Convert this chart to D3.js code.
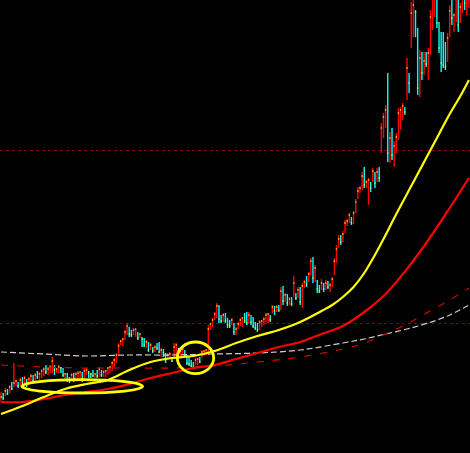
<!DOCTYPE html>
<html><head><meta charset="utf-8">
<script src="https://cdn.jsdelivr.net/npm/d3@7"></script>
<style>html,body{margin:0;padding:0;background:#000;overflow:hidden}</style>
</head><body>
<svg id="c" width="470" height="453"></svg>
<script>
const highs = [61,60,65,64,68,71,90,73,71,75, 76,77,74,76,79,78,80,82,81,84,
  86,88,86,88,96,88,85,88,86,85, 80,80,76,80,80,81,82,81,81,85,
  85,82,80,83,80,83,86,83,83,83, 86,87,92,95,100,110,113,115,123,130,
  126,123,125,124,121,120,116,115,113,111, 110,106,108,110,111,105,104,100,100,101,
  96,110,110,105,104,106,103,98,96,93, 91,95,95,96,103,103,103,128,130,135,
  141,150,148,138,140,140,135,133,135,130, 126,131,135,136,140,141,141,138,136,131,
  130,133,133,136,140,140,138,148,147,148, 148,166,167,160,159,156,156,177,160,166,
  166,170,173,177,181,195,196,188,173,168, 174,170,173,172,170,176,195,208,218,218,
  222,233,234,240,236,242,254,266,267,281, 286,273,275,271,285,281,285,286,330,340,
  348,380,321,325,312,320,345,346,350,346, 395,380,451,455,443,425,403,401,401,401,
  405,443,460,470,465,431,421,421,411,420, 448,460,440,465,460,450,470,470,470,478];
const lows = [51,53,57,58,60,63,66,67,65,67, 68,69,66,68,71,70,72,74,73,75,
  77,79,78,80,80,78,80,80,80,76, 73,71,70,72,71,72,74,75,71,75,
  78,75,75,76,75,75,76,76,76,76, 78,80,82,86,90,98,108,107,113,118,
  116,116,118,116,113,115,106,106,105,101, 103,100,101,103,100,96,96,90,95,95,
  91,96,98,95,97,98,95,88,87,86, 85,88,88,90,95,97,98,98,123,126,
  133,135,130,130,131,130,125,125,128,118, 118,124,127,126,130,128,130,128,125,123,
  121,123,126,128,131,130,131,140,138,141, 141,143,148,151,147,148,147,156,153,155,
  148,145,165,166,171,178,170,171,160,160, 163,161,163,164,161,166,178,190,205,208,
  211,220,227,230,228,229,240,254,260,263, 265,265,248,261,271,265,271,271,300,315,
  325,291,290,293,286,300,313,323,333,338, 353,360,405,416,416,358,356,373,378,386,
  373,398,423,436,425,400,381,385,383,391, 416,428,421,431,421,430,440,443,438,445];
const closes = [56,55,62,59,66,64,70,72,67,73, 70,75,68,74,77,72,78,76,79,82,
  84,81,84,86,92,83,84,86,85,78, 79,73,72,78,74,79,80,81,74,82,
  83,81,79,77,79,77,84,78,81,82, 85,86,90,93,98,107,112,114,121,127,
  119,118,123,124,115,119,114,108,111,103, 108,102,106,105,101,103,100,93,98,99,
  92,106,108,97,102,104,97,90,89,87, 86,93,94,91,101,102,103,124,129,133,
  139,147,134,132,138,132,128,127,133,121, 124,129,133,135,132,130,138,131,127,125,
  123,131,132,134,138,139,133,146,142,146, 143,162,152,158,150,154,149,170,155,163,
  151,167,171,168,179,192,175,185,164,162, 170,164,170,166,168,174,192,204,214,211,
  219,230,232,238,230,240,251,262,265,277, 268,271,273,265,282,270,281,275,325,336,
  343,300,315,298,307,316,340,343,347,341, 385,370,440,448,441,365,395,380,392,389,
  400,436,455,462,430,405,390,388,386,415, 442,435,438,458,428,446,462,450,465,470];

// moving averages read at sample bars
const yellowIdx = [0,10,20,30,40,50,60,70,80,90,100,110,120,130,140,150,155,160,165,170,175,180,185,190,195,200,205,210,215,219];
const yellowMA  = [39,47,56,64,69,73,83,91,95,97,102,110,117,123,131,142,148,156,166,180,198,218,239,259,279,299,319,339,357,373];
const redIdx = [0,10,20,30,40,50,60,70,80,90,100,110,120,130,140,150,160,170,180,190,200,210,219];
const redMA  = [51,51,54,58,61,64,69,75,80,85,88,94,100,106,111,119,127,141,159,184,213,245,275];
const whiteIdx = [0,20,40,60,80,100,120,140,160,170,180,190,200,210,219];
const whiteMA  = [101,99,97,98,98,99,100,103,110,114,119,124,130,138,148];
const redDashIdx = [0,20,40,60,80,100,120,140,160,170,180,190,200,210,219];
const redDashMA  = [88,86,85,85,85,87,91,96,104,110,119,129,141,153,165];
const levels = [130,303];
// annotation ellipses: centre bar index and value
const ringIdx = [38, 91];
const ringVal = [66.7, 95.2];

const W = 470, H = 453;
const svg = d3.select('#c');
svg.append('rect').attr('width',W).attr('height',H).attr('fill','#000');
const x = d3.scaleBand().domain(d3.range(closes.length)).range([0,W]).padding(0);
const y = d3.scaleLinear().domain([0,453]).range([H,0]);
const cx = i => x(i) + x.bandwidth()/2;

// horizontal dashed levels
svg.selectAll('line.lvl').data(levels).enter().append('line')
  .attr('x1',0).attr('x2',W).attr('y1',d=>Math.round(y(d))+0.5).attr('y2',d=>Math.round(y(d))+0.5)
  .attr('stroke','#800000').attr('stroke-width',1).attr('stroke-dasharray','3,3');

const mk = (idx) => d3.line().x((d,k)=>cx(idx[k])).y(d=>y(d)).curve(d3.curveCatmullRom.alpha(0.5));

// bars
const bw = 1.4;
const g = svg.append('g');
closes.forEach((c,i)=>{
  const up = i===0 ? true : c >= closes[i-1];
  g.append('rect').attr('x',cx(i)-bw/2).attr('width',bw)
    .attr('y',y(highs[i])).attr('height',Math.max(1,y(lows[i])-y(highs[i])))
    .attr('fill', up ? '#ff0000' : '#00ffff');
  g.append('rect').attr('x',cx(i)-bw/2).attr('width',bw)
    .attr('y',y(c)-0.6).attr('height',1.2).attr('fill','#ffff00');
});

// thin dashed averages
svg.append('path').attr('d',mk(whiteIdx)(whiteMA)).attr('fill','none')
  .attr('stroke','#d0d0d0').attr('stroke-width',1.2).attr('stroke-dasharray','6,3');
svg.append('path').attr('d',mk(redDashIdx)(redDashMA)).attr('fill','none')
  .attr('stroke','#e00000').attr('stroke-width',1.1).attr('stroke-dasharray','7,9');
// thick averages
svg.append('path').attr('d',mk(redIdx)(redMA)).attr('fill','none')
  .attr('stroke','#ff0000').attr('stroke-width',2.2);
svg.append('path').attr('d',mk(yellowIdx)(yellowMA)).attr('fill','none')
  .attr('stroke','#ffff00').attr('stroke-width',2.2);

// annotation ellipses
const rx = [60.3, 18.2], ry = [6.7, 15.8];
ringIdx.forEach((ri,k)=>{
  svg.append('ellipse').attr('cx',cx(ri)).attr('cy',y(ringVal[k]))
    .attr('rx',rx[k]).attr('ry',ry[k]).attr('fill','none')
    .attr('stroke','#ffff00').attr('stroke-width',2.8);
});
</script>
</body></html>
